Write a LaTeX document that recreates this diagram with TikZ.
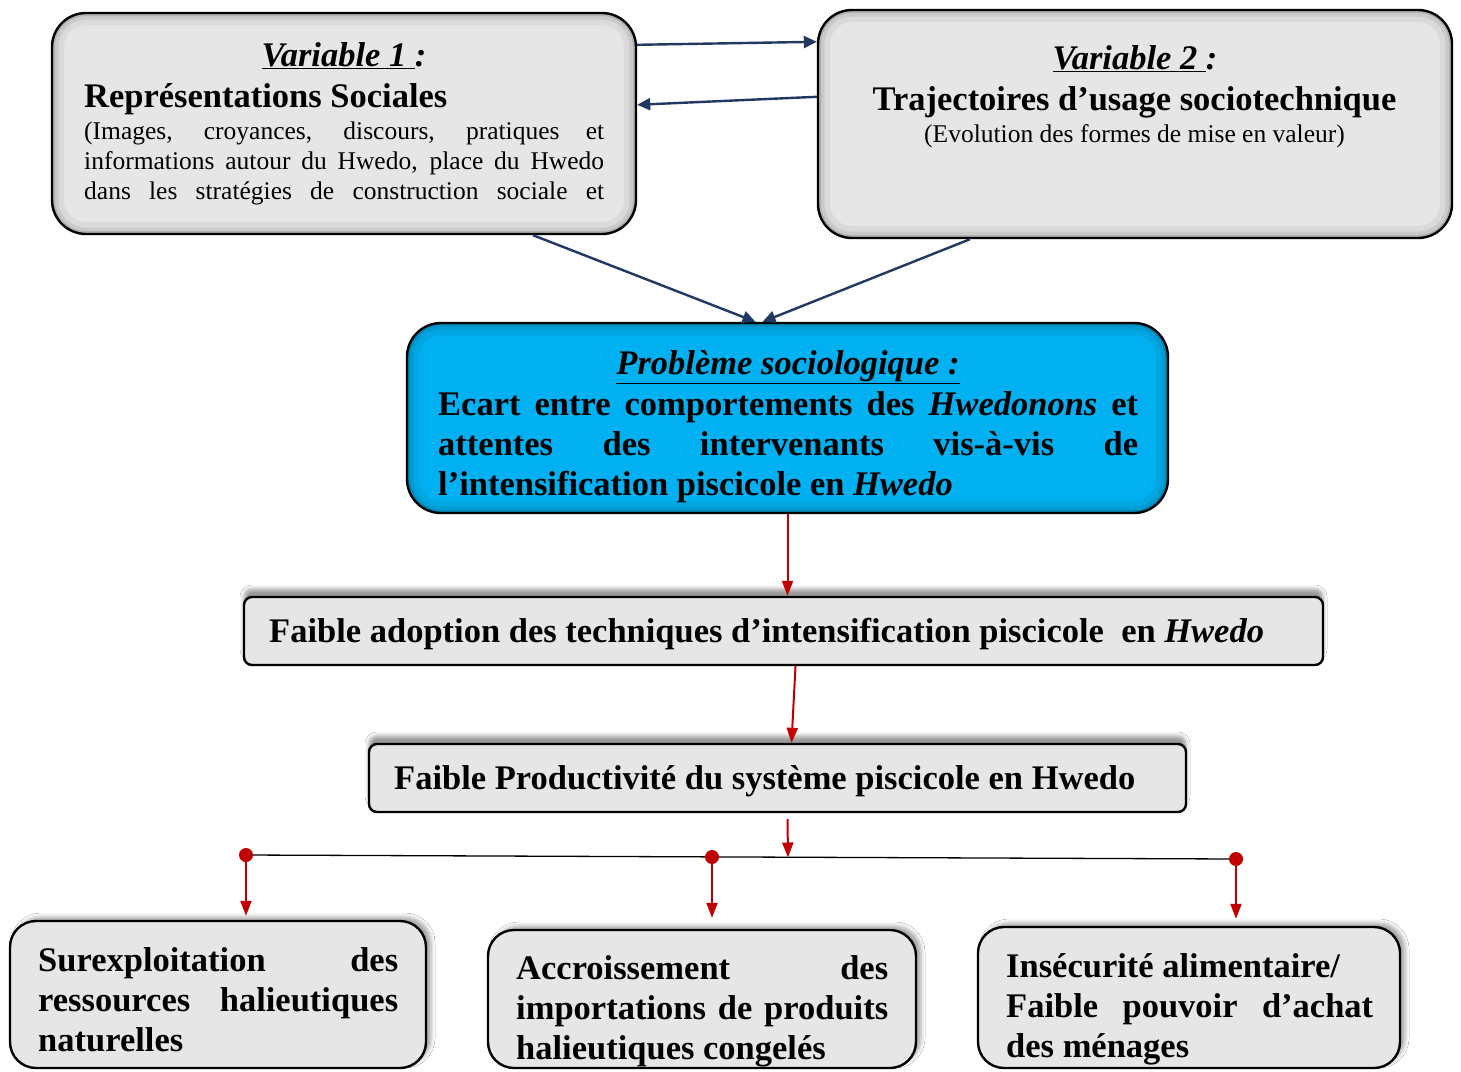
\documentclass[tikz,border=0pt]{standalone}
\usepackage{fontspec}
\setmainfont{Liberation Serif}
\usetikzlibrary{arrows.meta,shadows.blur}

\definecolor{kasten}{HTML}{E6E6E6}
\definecolor{blau}{HTML}{00B0F0}
\definecolor{marine}{HTML}{1F3864}
\definecolor{rot}{HTML}{C00000}

\tikzset{
  bevel/.style={path picture={
      \draw[black,opacity=0.05,line width=24pt,rounded corners=#1] (path picture bounding box.south west) rectangle (path picture bounding box.north east);
      \draw[black,opacity=0.07,line width=13pt,rounded corners=#1] (path picture bounding box.south west) rectangle (path picture bounding box.north east);
      \draw[black,opacity=0.12,line width=6pt,rounded corners=#1] (path picture bounding box.south west) rectangle (path picture bounding box.north east);}},
  gross/.style={draw, line width=2.4pt, fill=kasten, rounded corners=34pt, inner sep=0pt, bevel=34pt},
  band/.style={draw, line width=2.4pt, fill=kasten, rounded corners=8pt, inner sep=0pt,
    blur shadow={shadow xshift=0pt, shadow yshift=8pt, shadow blur radius=4pt, shadow opacity=40}},
  folge/.style={draw, line width=2.4pt, fill=kasten, rounded corners=26pt, inner sep=0pt,
    blur shadow={shadow xshift=5pt, shadow yshift=4pt, shadow blur radius=4pt, shadow opacity=35}},
  titel/.style={font=\fontsize{34.5}{40}\selectfont\bfseries, inner sep=0pt},
  klein/.style={font=\fontsize{25.5}{30}\selectfont, inner sep=0pt},
  pfeil/.style={marine, line width=2.4pt, -{Triangle[length=13pt,width=12pt]}},
  rpfeil/.style={rot, line width=2pt, -{Triangle[length=15pt,width=11pt]}}
}

\begin{document}
\begin{tikzpicture}[x=1pt,y=-1pt]
  \useasboundingbox[fill=white] (0,0) rectangle (1461,1071);

  % Kaesten
  \node[gross, minimum width=584pt, minimum height=221pt] (var1) at (344,123.5) {};
  \node[gross, minimum width=634pt, minimum height=228pt] (var2) at (1135,124) {};
  \node[gross, fill=blau, minimum width=761pt, minimum height=190pt] (prob) at (787.5,418) {};
  \node[band, minimum width=1079pt, minimum height=68pt] (adopt) at (783.5,631) {};
  \node[band, minimum width=817pt, minimum height=68pt] (prod) at (777.5,778) {};
  \node[folge, minimum width=416pt, minimum height=147pt] (b1) at (218,994.5) {};
  \node[folge, minimum width=428pt, minimum height=138pt] (b2) at (702,999) {};
  \node[folge, minimum width=422pt, minimum height=141pt] (b3) at (1189,997.5) {};

  % Variable 1
  \node[titel, anchor=base] (v1t) at (344,66) {\textit{\underline{Variable 1\ }:}};
  \node[titel, anchor=base west] (v1s) at (84,107) {Représentations Sociales};
  \foreach \txt [count=\i from 0] in {{(Images, croyances, discours, pratiques et},
      {informations autour du Hwedo, place du Hwedo},
      {dans les stratégies de construction sociale et}}
    \node[klein, anchor=base west] (v1l\i) at (84,{139+30*\i}) {\makebox[520pt][s]{\txt}};

  % Variable 2
  \node[titel, anchor=base] (v2t) at (1135,69) {\textit{\underline{Variable 2\ }:}};
  \node[titel, anchor=base] (v2s) at (1134.5,110) {Trajectoires d’usage sociotechnique};
  \node[klein, anchor=base] (v2l) at (1134.5,142) {(Evolution des formes de mise en valeur)};

  % Problem
  \node[titel, anchor=base] (pt) at (788,374) {\textit{\underline{Problème sociologique :}}};
  \foreach \txt [count=\i from 0] in {{Ecart entre comportements des \textit{Hwedonons} et},
      {attentes des intervenants vis-à-vis de},
      {l’intensification piscicole en \textit{Hwedo}\hfill}}
    \node[titel, anchor=base west] (pl\i) at (438,{415+40*\i}) {\makebox[700pt][s]{\txt}};

  \node[titel, anchor=base west] (at) at (269,642) {Faible adoption des techniques d’intensification piscicole\ \ en \textit{Hwedo}};
  \node[titel, anchor=base west] (prt) at (394,789) {Faible Productivité du système piscicole en Hwedo};

  % Folgen
  \foreach \txt [count=\i from 0] in {{Surexploitation des},{ressources halieutiques},{naturelles\hfill}}
    \node[titel, anchor=base west] (b1l\i) at (38,{971+40*\i}) {\makebox[360pt][s]{\txt}};
  \foreach \txt [count=\i from 0] in {{Accroissement des},{importations de produits},{halieutiques congelés\hfill}}
    \node[titel, anchor=base west] (b2l\i) at (516,{979+40*\i}) {\makebox[372pt][s]{\txt}};
  \foreach \txt [count=\i from 0] in {{Insécurité alimentaire/\hfill},{Faible pouvoir d’achat},{des ménages\hfill}}
    \node[titel, anchor=base west] (b3l\i) at (1006,{977+40*\i}) {\makebox[367pt][s]{\txt}};

  % Pfeile oben
  \draw[pfeil] ([yshift=-33pt]var1.north east) -- ([yshift=-33pt]var2.north west);
  \draw[pfeil] ([yshift=-88pt]var2.north west) -- ([yshift=-93pt]var1.north east);
  \draw[pfeil] ([xshift=189pt]var1.south) -- ([xshift=-32pt]prob.north);
  \draw[pfeil] ([xshift=-165pt]var2.south) -- ([xshift=-25pt]prob.north);

  % Pfeile unten
  \draw[rpfeil] (prob.south) -- (prob.south |- adopt.north);
  \draw[rpfeil] ([xshift=12pt]adopt.south) -- ([xshift=14pt]prod.north);

  \coordinate (j1) at (246,855);
  \coordinate (j2) at (712,857);
  \coordinate (j3) at (1236,859);
  \coordinate (hub) at (788,857.5);
  \draw[line width=1.3pt] (j1) -- (j3);
  \draw[rpfeil] ([xshift=10pt,yshift=-6pt]prod.south) -- (hub);
  \foreach \j in {j1,j2,j3}
    \fill[rot] (\j) circle (7pt);
  \draw[rpfeil, shorten >=4pt] (j1) -- (j1 |- b1.north);
  \draw[rpfeil, shorten >=11pt] (j2) -- (j2 |- b2.north);
  \draw[rpfeil, shorten >=7pt] (j3) -- (j3 |- b3.north);
\end{tikzpicture}
\end{document}
